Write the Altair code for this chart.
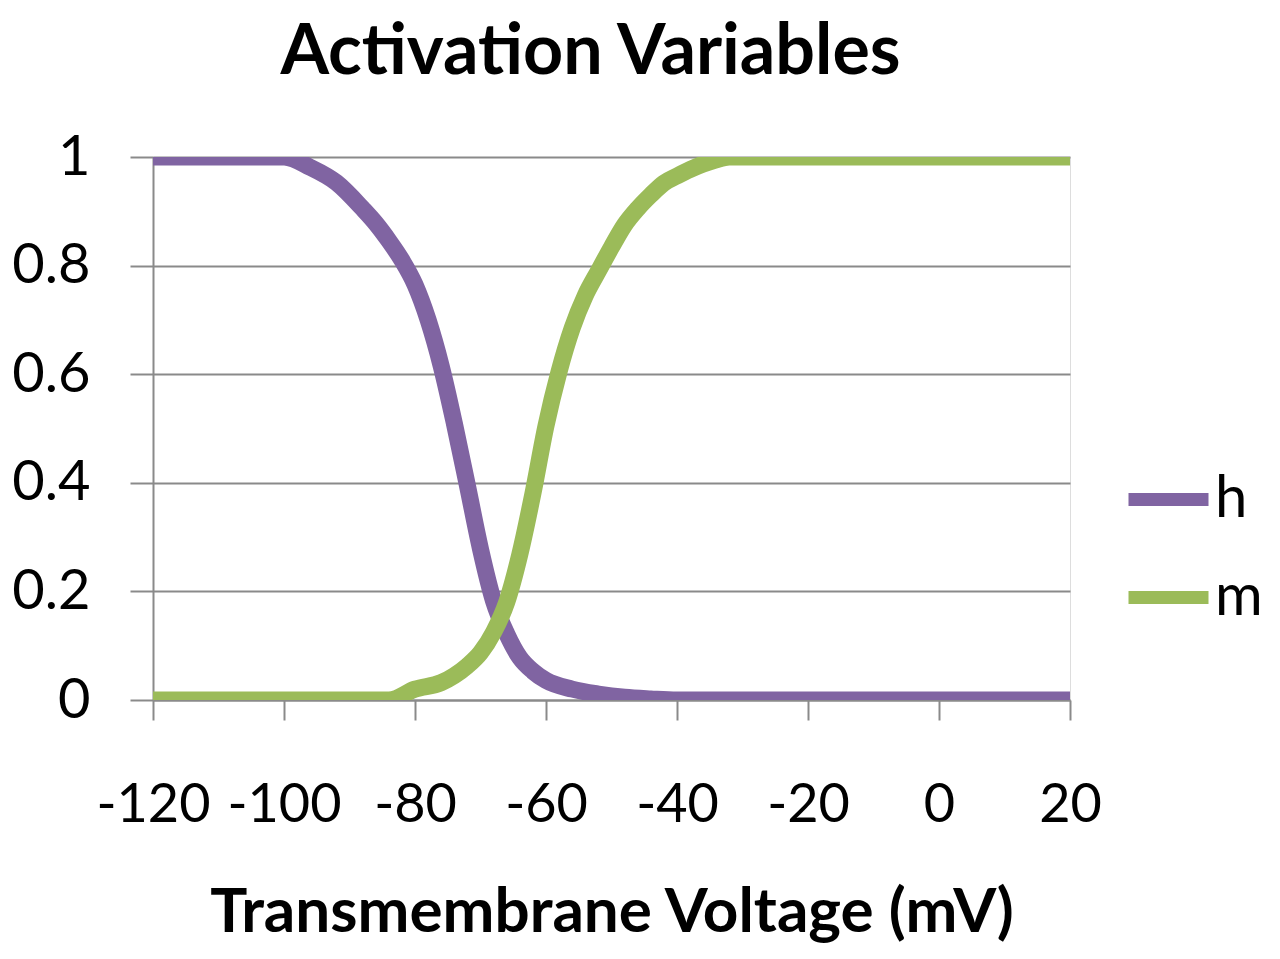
import altair as alt
import pandas as pd

# ---- data ----
voltage_h = [-120, -110, -100, -96, -92, -88, -86, -84, -82, -80, -78, -76, -74, -72, -70,
             -68, -66, -64, -62, -60, -56, -52, -48, -44, -40, -20, 0, 20]
h_values = [1, 1, 1, 0.981, 0.953, 0.905, 0.878, 0.846, 0.81, 0.765, 0.70, 0.615, 0.51, 0.395, 0.278,
            0.182, 0.122, 0.078, 0.053, 0.036, 0.02, 0.011, 0.005, 0.002, 0, 0, 0, 0]

voltage_m = [-120, -100, -84, -80, -76, -74, -72, -70, -68, -66, -64, -62, -60, -58,
             -56, -54, -52, -50, -48, -46, -44, -42, -40, -38, -36, -34, -32, -20, 0, 20]
m_values = [0, 0, 0, 0.02, 0.032, 0.045, 0.063, 0.087, 0.125, 0.18, 0.268, 0.38, 0.505, 0.605,
            0.685, 0.745, 0.79, 0.834, 0.875, 0.905, 0.93, 0.952, 0.965, 0.977, 0.987, 0.995, 1, 1, 1, 1]

series_names = ["h", "m"]
series_colors = ["#8064A2", "#9BBB59"]
x_ticks = [-120, -100, -80, -60, -40, -20, 0, 20]
y_ticks = [0, 0.2, 0.4, 0.6, 0.8, 1]

rows = []
for v, val in zip(voltage_h, h_values):
    rows.append({"voltage": v, "value": val, "series": "h"})
for v, val in zip(voltage_m, m_values):
    rows.append({"voltage": v, "value": val, "series": "m"})
df = pd.DataFrame(rows)

FONT = "Lato"
GRID = "#8a8a8a"

chart = (
    alt.Chart(df)
    .mark_line(strokeWidth=17, clip=True, interpolate="monotone", strokeCap="butt")
    .encode(
        x=alt.X(
            "voltage:Q",
            scale=alt.Scale(domain=[-120, 20], nice=False, zero=False),
            axis=alt.Axis(
                title="Transmembrane Voltage (mV)",
                values=x_ticks,
                labelExpr="'' + datum.value",
                grid=False,
                domainColor=GRID,
                domainWidth=2,
                tickColor=GRID,
                tickWidth=2,
                tickSize=20,
                labelFont=FONT,
                labelFontSize=54,
                labelColor="black",
                labelPadding=58,
                titleFont=FONT,
                titleFontSize=62,
                titleFontWeight="bold",
                titleColor="black",
                titlePadding=50,
                labelFlush=False,
                labelOverlap=False,
            ),
        ),
        y=alt.Y(
            "value:Q",
            scale=alt.Scale(domain=[0, 1], nice=False),
            axis=alt.Axis(
                title=None,
                values=y_ticks,
                format="~g",
                grid=True,
                gridColor=GRID,
                gridWidth=2,
                domainColor=GRID,
                domainWidth=2,
                tickColor=GRID,
                tickWidth=2,
                tickSize=23,
                labelFont=FONT,
                labelFontSize=56,
                labelColor="black",
                labelPadding=40,
                labelBaseline="middle",
                labelFlush=False,
            ),
        ),
        color=alt.Color(
            "series:N",
            scale=alt.Scale(domain=series_names, range=series_colors),
            legend=alt.Legend(
                title=None,
                orient="none",
                legendX=969,
                legendY=296,
                symbolType="stroke",
                symbolSize=6400,
                symbolStrokeWidth=13,
                labelFont=FONT,
                labelFontSize=58,
                labelColor="black",
                labelOffset=0,
                rowPadding=22,
                padding=0,
            ),
        ),
    )
    .properties(
        width=917,
        height=543,
        padding={"left": 153, "top": 157, "right": 210, "bottom": 259},
        autosize=alt.AutoSizeParams(type="none"),
        title=alt.TitleParams(
            "Activation Variables",
            font=FONT,
            fontSize=70,
            fontWeight="bold",
            color="black",
            anchor="middle",
            frame="group",
            dx=-21,
            offset=40,
        ),
    )
    .configure_view(stroke=None)
    .configure(background="white")
)

chart.save("out.html", embed_options={"renderer": "svg", "actions": False})
